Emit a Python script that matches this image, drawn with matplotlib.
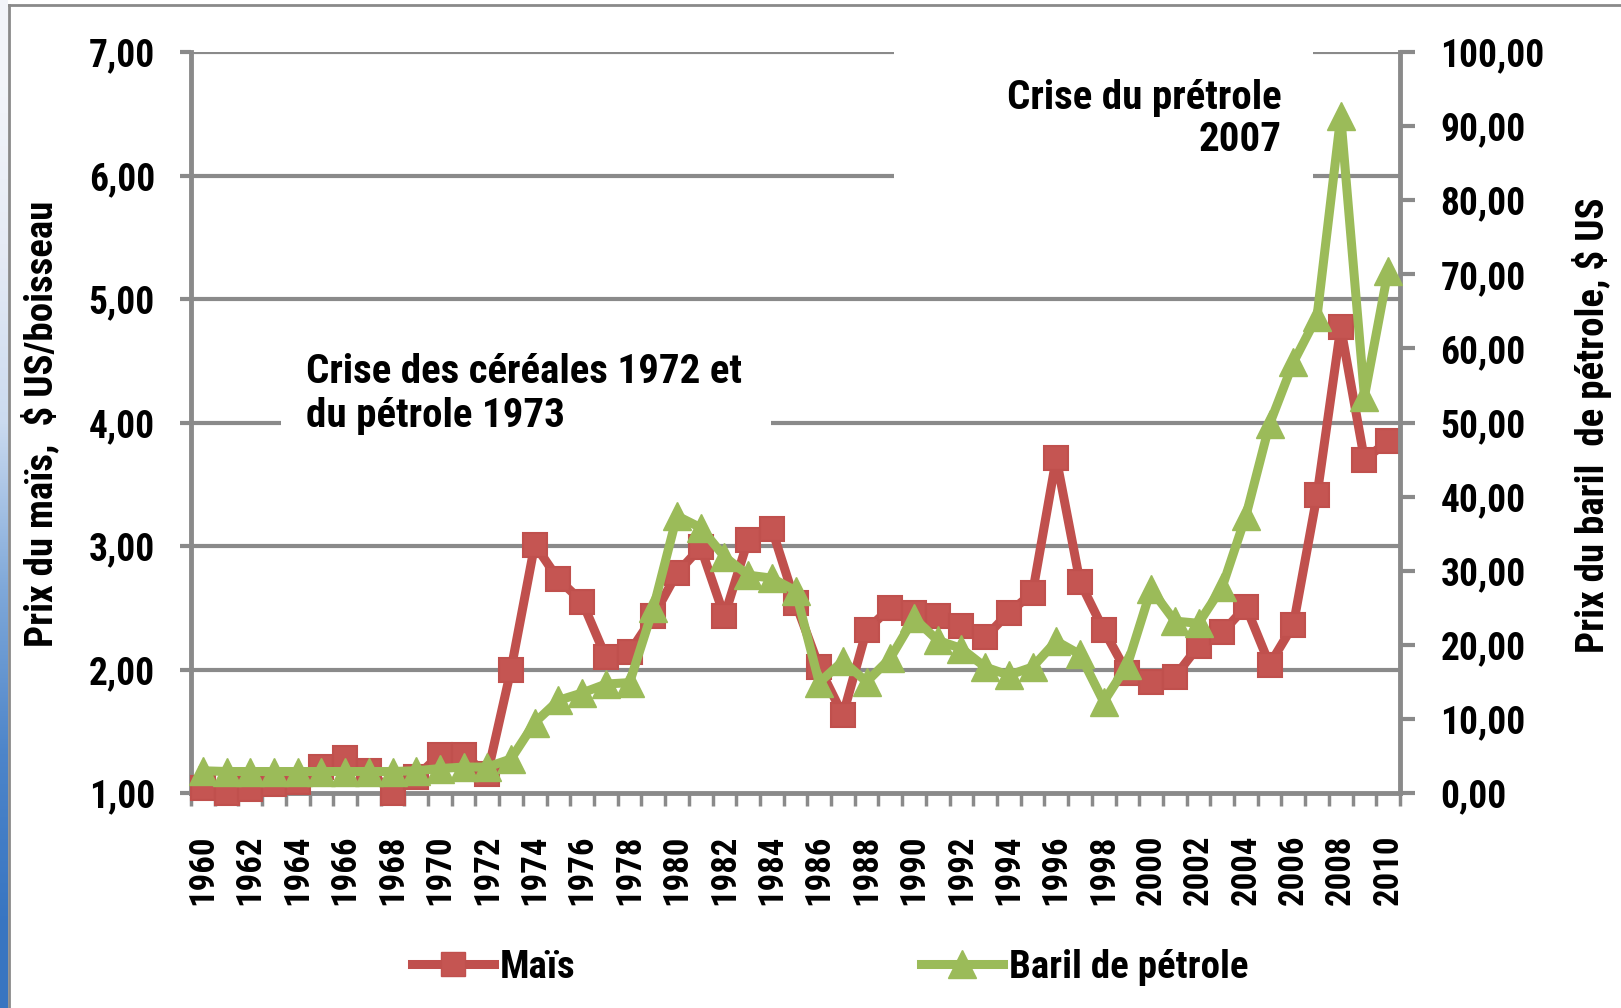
import numpy as np
import matplotlib
matplotlib.use('Agg')
import matplotlib.pyplot as plt
from matplotlib.lines import Line2D
from matplotlib.patches import Rectangle

plt.rcParams['font.family'] = ['Roboto Condensed', 'Liberation Sans', 'DejaVu Sans']
plt.rcParams['font.weight'] = 'bold'

years = list(range(1960, 2011))
mais = [1.04, 1.00, 1.03, 1.07, 1.09, 1.21, 1.28, 1.18, 1.00, 1.13,
        1.31, 1.31, 1.15, 2.00, 3.01, 2.73, 2.55, 2.10, 2.14, 2.43,
        2.78, 2.99, 2.43, 3.05, 3.14, 2.54, 2.02, 1.63, 2.32, 2.50,
        2.46, 2.43, 2.35, 2.26, 2.46, 2.62, 3.71, 2.71, 2.32, 1.97,
        1.90, 1.94, 2.19, 2.30, 2.51, 2.04, 2.36, 3.41, 4.77, 3.70,
        3.85]
petrole = [3.0, 2.9, 2.9, 2.9, 2.9, 2.9, 2.9, 2.9, 2.9, 3.0,
           3.3, 3.5, 3.5, 4.6, 9.5, 12.5, 13.5, 14.7, 14.9, 24.9,
           37.4, 35.8, 31.9, 29.4, 29.0, 27.3, 14.9, 17.8, 15.0, 18.2,
           23.6, 20.6, 19.5, 17.0, 15.9, 17.0, 20.5, 18.7, 12.3, 17.3,
           27.5, 23.2, 22.9, 27.8, 37.4, 49.8, 58.1, 64.3, 91.3, 53.5,
           70.5]
left_ticks = [1, 2, 3, 4, 5, 6, 7]
right_ticks = list(range(0, 101, 10))

RED = '#C0504D'
GREEN = '#9BBB59'
GRAY = '#8A8A8A'

W, H = 1621, 1008
fig = plt.figure(figsize=(W / 100, H / 100), dpi=100)

def fx(px):
    return px / W

def fy(py):
    return 1 - py / H

# slide decoration on the left / top
strip = fig.add_axes([0, 0, fx(8), 1])
grad = np.array([[0.95, 0.96, 0.98], [0.90, 0.92, 0.96], [0.80, 0.86, 0.94],
                 [0.50, 0.66, 0.85], [0.30, 0.52, 0.79], [0.22, 0.46, 0.76]])
strip.imshow(grad[:, None, :], aspect='auto', interpolation='bilinear')
strip.axis('off')
fig.add_artist(Line2D([fx(9), 1], [fy(5), fy(5)], color=GRAY, lw=2))
fig.add_artist(Line2D([fx(9), fx(9)], [0, fy(5)], color=GRAY, lw=2))

x = np.arange(len(years))
ax = fig.add_axes([fx(191), fy(793), fx(1400) - fx(191), fy(52) - fy(793)])
ax.set_xlim(-0.5, len(years) - 0.5)
ax.set_ylim(1, 7)

ax.hlines(left_ticks[1:], -0.5, len(years) - 0.5, color=GRAY, lw=3, zorder=0.5)

# white boxes behind the annotations
for (x0, y0, x1, y1) in [(281, 330, 771, 460), (894, 30, 1313, 200)]:
    ax.add_patch(Rectangle((fx(x0), fy(y1)), fx(x1) - fx(x0), fy(y0) - fy(y1),
                           transform=fig.transFigure, facecolor='white',
                           edgecolor='none', zorder=1, clip_on=False))

ax.plot(x, mais, color=RED, lw=6.5, marker='s', markersize=17,
        markerfacecolor='#C55552', markeredgecolor=RED, markeredgewidth=1.5,
        solid_joinstyle='round', zorder=3, clip_on=False)

ax2 = ax.twinx()
ax2.set_ylim(0, 100)
ax2.plot(x, petrole, color=GREEN, lw=6.5, marker='^', markersize=20,
         markerfacecolor=GREEN, markeredgecolor=GREEN, markeredgewidth=1,
         solid_joinstyle='round', zorder=3, clip_on=False)

for a in (ax, ax2):
    for s in a.spines.values():
        s.set_visible(False)
ax.spines['left'].set_visible(True)
ax.spines['bottom'].set_visible(True)
ax2.spines['right'].set_visible(True)
for s in (ax.spines['left'], ax.spines['bottom'], ax2.spines['right']):
    s.set_color(GRAY)
    s.set_linewidth(3.5)

ax.set_yticks(left_ticks)
ax.set_yticklabels([('%.2f' % v).replace('.', ',') for v in left_ticks])
ax.tick_params(axis='y', direction='out', length=8, width=3, color=GRAY,
               pad=18, labelsize=27)
ax2.set_yticks(right_ticks)
ax2.set_yticklabels([('%.2f' % v).replace('.', ',') for v in right_ticks])
ax2.tick_params(axis='y', direction='out', length=11, width=3, color=GRAY,
                pad=18, labelsize=27)

ax.set_xticks(x[::2])
ax.set_xticklabels([str(y) for y in years[::2]], rotation=90)
ax.set_xticks(np.arange(-0.5, len(years)), minor=True)
ax.tick_params(axis='x', which='major', length=0, pad=30, labelsize=25)
ax.tick_params(axis='x', which='minor', direction='out', length=9, width=2.5,
               color=GRAY)
for lab in ax.get_xticklabels() + ax.get_yticklabels() + ax2.get_yticklabels():
    lab.set_fontweight('bold')

fig.text(fx(41), fy(424), 'Prix du maïs,  $ US/boisseau', rotation=90,
         ha='center', va='center', fontsize=28, fontweight='bold')
fig.text(fx(1592), fy(425), 'Prix du baril  de pétrole, $ US', rotation=90,
         ha='center', va='center', fontsize=28, fontweight='bold')

fig.text(fx(306), fy(394), 'Crise des céréales 1972 et\ndu pétrole 1973',
         ha='left', va='center', fontsize=29.5, fontweight='bold',
         linespacing=1.22)
fig.text(fx(1282), fy(119), 'Crise du prétrole\n2007', ha='right',
         va='center', multialignment='right', fontsize=29.5, fontweight='bold',
         linespacing=1.16)

handles = [Line2D([], [], color=RED, lw=6.5, marker='s', markersize=17,
                  markerfacecolor='#C55552', markeredgecolor=RED),
           Line2D([], [], color=GREEN, lw=6.5, marker='^', markersize=20,
                  markerfacecolor=GREEN, markeredgecolor=GREEN)]
fig.legend(handles, ['Maïs', 'Baril de pétrole'], loc='center',
           bbox_to_anchor=(fx(830), fy(967)), ncol=2, frameon=False,
           prop={'size': 28, 'weight': 'bold'}, handlelength=2.1,
           handletextpad=0.15, columnspacing=8.9)

fig.savefig('out.png', dpi=100)
